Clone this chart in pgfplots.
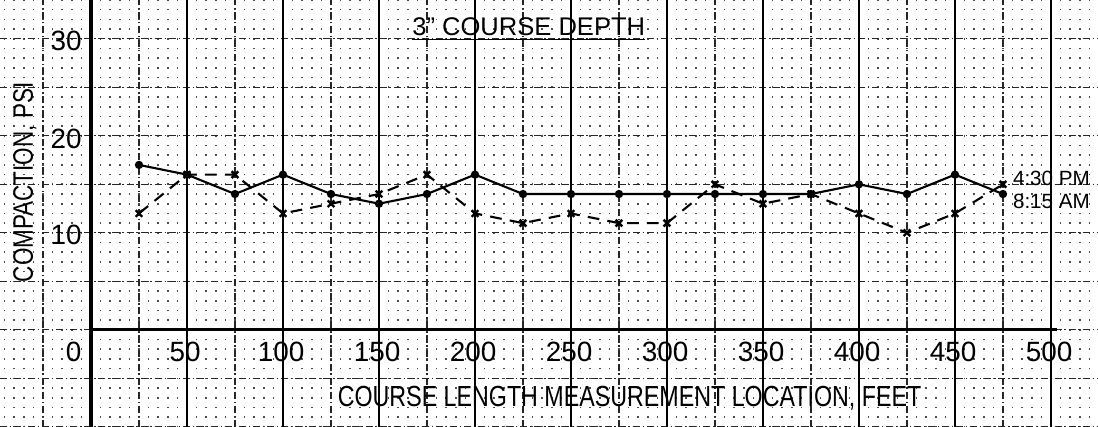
\documentclass[border=0pt]{standalone}
\usepackage{pgfplots}
\pgfplotsset{compat=1.18}
\usepackage{fontspec}
\setmainfont{Liberation Sans}
\newfontfamily\cond{Liberation Sans}[FakeStretch=0.8]
\newcommand{\ticksize}{\fontsize{11.9}{12}\selectfont}

\begin{document}
\begin{tikzpicture}
\begin{axis}[
  scale only axis,
  x=0.0288cm, y=0.1455cm,
  xmin=-47.4, xmax=524.5, ymin=-10, ymax=34,
  axis line style={draw=none},
  major tick length=0pt, minor tick length=0pt,
  xtick={-25,25,...,475},
  minor xtick={-45,-40,...,520},
  ytick={-10,-5,...,30},
  extra x ticks={0,50,...,500},
  extra x tick style={grid=major, major grid style={solid, black, line width=0.7pt}},
  xticklabels={}, yticklabels={}, extra x tick labels={},
  xmajorgrids, xminorgrids, ymajorgrids,
  major grid style={black!85, line width=0.5pt, dash pattern=on 3pt off 1.2pt on 0.6pt off 1.2pt},
  minor grid style={black!70, line width=0.7pt, dash pattern=on 0.7pt off 3.44pt, dash phase=0.35pt},
  clip=false,
]
% 4:30 PM / 8:15 AM readings, every 25 ft
\addplot[black, line width=0.9pt, mark=*, mark size=1.3pt]
  coordinates {(25,17) (50,16) (75,14) (100,16) (125,14) (150,13) (175,14)
               (200,16) (225,14) (250,14) (275,14) (300,14) (325,14) (350,14)
               (375,14) (400,15) (425,14) (450,16) (475,14)};
\addplot[black, line width=0.9pt, dash pattern=on 5pt off 3.5pt,
         mark=x, mark size=2pt, mark options={solid, line width=1pt}]
  coordinates {(25,12) (50,16) (75,16) (100,12) (125,13) (150,14) (175,16)
               (200,12) (225,11) (250,12) (275,11) (300,11) (325,15) (350,13)
               (375,14) (400,12) (425,10) (450,12) (475,15)};

% heavy axis lines of the sheet
\draw[line width=1.3pt] (axis cs:0,-10) -- (axis cs:0,34);
\draw[line width=1.3pt] (axis cs:0,0) -- (axis cs:503,0);

% tick labels
\node[font=\ticksize] at (axis cs:-9,-2.3) {0};
\pgfplotsinvokeforeach{50,100,...,500}{
  \node[font=\ticksize] at (axis cs:#1-1,-2.3) {#1};
}
\node[font=\ticksize] at (axis cs:-13,29.8) {30};
\node[font=\ticksize] at (axis cs:-13,19.7) {20};
\node[font=\ticksize] at (axis cs:-13,9.75) {10};

% titles and labels
\node[font=\fontsize{10.9}{12}\selectfont] at (axis cs:228,31.0) {\underline{3" COURSE DEPTH}};
\node[rotate=90, font=\cond\fontsize{12}{12}\selectfont] at (axis cs:-34.4,15.2) {COMPACTION, PSI};
\node[font=\cond\fontsize{12.4}{12}\selectfont] at (axis cs:280.5,-7.0) {COURSE LENGTH MEASUREMENT LOCATION, FEET};
\node[anchor=west, inner sep=0pt, font=\fontsize{8.8}{9}\selectfont] at (axis cs:480,15.6) {4:30 PM};
\node[anchor=west, inner sep=0pt, font=\fontsize{8.8}{9}\selectfont] at (axis cs:480,13.2) {8:15 AM};
\end{axis}
\pgfresetboundingbox
\path[use as bounding box] (current axis.south west) rectangle (current axis.north east);
\end{tikzpicture}
\end{document}
